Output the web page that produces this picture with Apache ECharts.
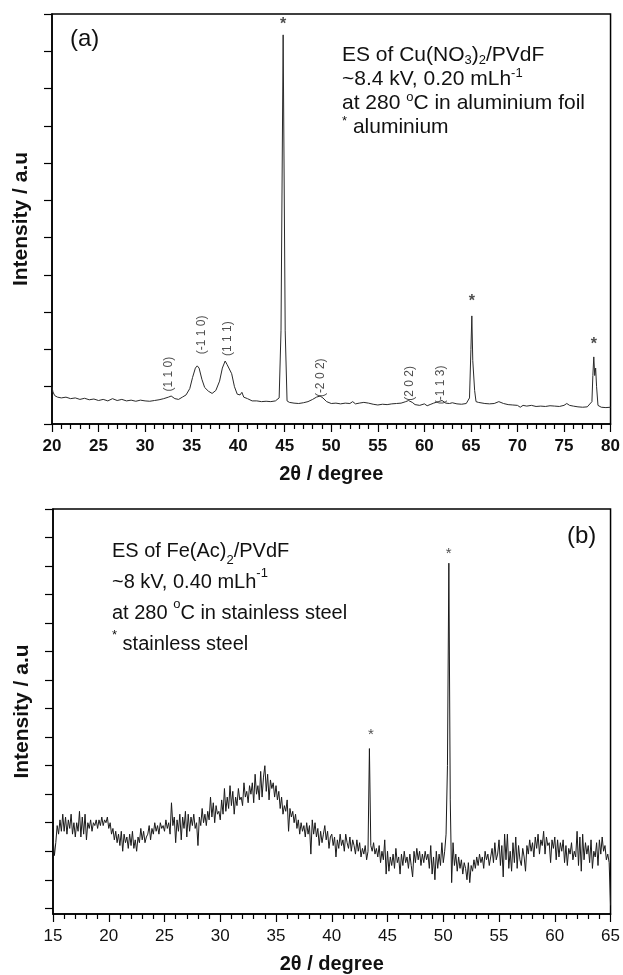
<!DOCTYPE html>
<html>
<head>
<meta charset="utf-8">
<script src="https://cdn.jsdelivr.net/npm/echarts@6/dist/echarts.min.js"></script>
<style>
html, body { margin: 0; padding: 0; background: #fff; }
#chart { width: 623px; height: 975px; }
</style>
</head>
<body>
<div id="chart"></div>
<script>
// ---- panel (a): Cu(NO3)2/PVdF on aluminium foil ----
var traceA = [
    [20, 1.0], [20.1, 0.86], [20.3, 0.76], [20.6, 0.72], [21, 0.70], [21.5, 0.72], [22, 0.68], [22.5, 0.70],
    [23, 0.66], [23.5, 0.69], [24, 0.65], [24.5, 0.67], [25, 0.63], [25.5, 0.66], [26, 0.62], [26.5, 0.68],
    [27, 0.63], [27.5, 0.66], [28, 0.62], [28.5, 0.64], [29, 0.61], [29.5, 0.64], [30, 0.62], [30.5, 0.61],
    [31, 0.63], [31.5, 0.65], [32, 0.68], [32.5, 0.72], [32.8, 0.75], [33.2, 0.68], [33.6, 0.66], [34, 0.72],
    [34.4, 0.78], [34.8, 0.95], [35.1, 1.25], [35.4, 1.5], [35.6, 1.56], [35.8, 1.5], [36.1, 1.2], [36.4, 0.98],
    [36.8, 0.88], [37.2, 0.82], [37.6, 0.9], [38.0, 1.15], [38.3, 1.5], [38.6, 1.69], [38.8, 1.6], [39.0, 1.62],
    [39.3, 1.35], [39.6, 1.0], [39.9, 0.8], [40.2, 0.78], [40.4, 0.85], [40.6, 0.72], [41, 0.68], [41.5, 0.62],
    [42, 0.62], [42.5, 0.6], [43, 0.61], [43.5, 0.6], [44, 0.62], [44.4, 0.7], [44.6, 2.5], [44.83, 10.44],
    [45.05, 2.5], [45.25, 0.62], [45.5, 0.58], [46, 0.56], [46.5, 0.55], [47, 0.57], [47.5, 0.6], [48, 0.66],
    [48.4, 0.72], [48.8, 0.75], [49.1, 0.7], [49.5, 0.6], [50, 0.55], [50.5, 0.56], [51, 0.54], [51.5, 0.56],
    [52, 0.55], [52.3, 0.6], [52.6, 0.54], [53, 0.56], [53.5, 0.58], [54, 0.56], [54.5, 0.53], [55, 0.51],
    [55.5, 0.53], [56, 0.52], [56.5, 0.54], [57, 0.55], [57.5, 0.56], [58, 0.6], [58.3, 0.63], [58.7, 0.58],
    [59, 0.52], [59.5, 0.5], [60, 0.54], [60.3, 0.49], [60.7, 0.53], [61, 0.56], [61.5, 0.6], [61.9, 0.63],
    [62.3, 0.56], [62.7, 0.55], [63, 0.57], [63.5, 0.54], [64, 0.53], [64.5, 0.55], [64.85, 0.7], [65.0, 2.0],
    [65.1, 2.9], [65.2, 1.7], [65.3, 1.65], [65.4, 0.9], [65.55, 0.6], [65.8, 0.58], [66, 0.6], [66.5, 0.55],
    [67, 0.54], [67.5, 0.55], [68, 0.6], [68.5, 0.55], [69, 0.52], [69.5, 0.51], [70, 0.5], [70.3, 0.45],
    [70.6, 0.5], [71, 0.48], [71.5, 0.5], [72, 0.47], [72.5, 0.48], [73, 0.47], [73.5, 0.49], [74, 0.48],
    [74.5, 0.47], [75, 0.5], [75.3, 0.55], [75.6, 0.5], [76, 0.48], [76.5, 0.46], [77, 0.45], [77.5, 0.46],
    [78.0, 0.6], [78.1, 1.3], [78.2, 1.8], [78.3, 1.3], [78.4, 1.5], [78.5, 1.0], [78.65, 0.5], [79, 0.45],
    [79.5, 0.44], [80, 0.45]
];
var starsA = [[44.83, 10.82], [65.1, 3.39], [78.2, 2.25]];
var hklTextA = ['(1 1 0)', '(-1 1 0)', '(1 1 1)', '(-2 0 2)', '(2 0 2)', '(-1 1 3)'];
var hklPosA = [[32.56, 1.34], [36.07, 2.39], [38.9, 2.29], [48.84, 1.24], [58.4, 1.09], [61.8, 1.05]];

// ---- panel (b): Fe(Ac)2/PVdF on stainless steel, step scan 15..65 ----
var scanStartB = 15;
var scanStepB = 0.125;
var traceB = [
    2.5, 1.85, 2.3, 2.9, 2.6, 3.1, 2.7, 3.3,
    2.7, 3.2, 2.6, 3.1, 2.8, 3.3, 2.6, 3.0,
    2.5, 3.0, 2.7, 3.4, 2.5, 3.2, 2.6, 3.3,
    2.4, 3.0, 2.8, 3.1, 2.7, 3.0, 2.9, 3.1,
    2.8, 3.1, 2.9, 3.2, 2.9, 3.1, 3.0, 3.2,
    2.8, 3.0, 2.6, 2.8, 2.4, 2.7, 2.3, 2.6,   // 20
    2.2, 2.7, 2.0, 2.6, 2.3, 2.5, 2.1, 2.6,
    2.2, 2.7, 2.1, 2.4, 2.0, 2.5, 2.3, 2.8,
    2.4, 2.7, 2.3, 2.5, 2.6, 2.9, 2.4, 2.8,
    2.6, 3.0, 2.7, 2.9, 2.6, 3.0, 2.8, 2.9,
    2.7, 3.1, 2.8, 3.0, 2.6, 3.7, 2.9, 3.2,   // 25
    2.3, 3.1, 2.7, 3.3, 2.4, 3.2, 2.8, 3.4,
    2.5, 3.3, 2.7, 3.2, 2.9, 3.3, 2.8, 3.0,
    2.2, 3.2, 2.9, 3.5, 3.0, 3.3, 2.9, 3.4,
    3.1, 3.9, 3.2, 3.7, 3.0, 3.6, 3.3, 3.4,
    3.1, 3.8, 3.3, 4.2, 3.4, 3.9, 3.5, 4.3,   // 30
    3.6, 4.1, 3.3, 3.9, 3.6, 4.2, 3.8, 3.9,
    3.6, 4.4, 3.9, 4.1, 3.7, 4.3, 4.0, 4.4,
    3.7, 4.7, 4.0, 4.3, 3.8, 4.8, 3.9, 4.6,
    5.0, 4.1, 4.7, 3.8, 4.5, 4.2, 4.4, 3.9,
    4.3, 3.8, 4.1, 3.5, 3.9, 3.3, 3.6, 3.4,   // 35
    3.8, 2.7, 3.5, 3.2, 3.4, 3.0, 3.3, 2.8,
    3.1, 2.6, 3.0, 2.7, 2.9, 2.5, 3.0, 2.6,
    2.9, 1.9, 3.1, 2.6, 3.0, 2.5, 2.8, 2.2,
    2.7, 2.3, 2.6, 2.9, 2.4, 2.7, 2.1, 2.5,
    2.6, 2.2, 2.5, 1.8, 2.4, 2.1, 2.6, 2.2,   // 40
    2.4, 2.0, 2.6, 2.3, 2.1, 2.5, 2.0, 2.4,
    2.2, 1.9, 2.4, 2.0, 2.3, 1.8, 2.1, 1.9,
    2.2, 1.7, 2.0, 5.6, 2.2, 2.0, 2.3, 1.9,
    2.1, 1.8, 2.2, 1.6, 2.0, 1.7, 2.4, 1.2,
    2.0, 1.3, 1.8, 1.5, 1.9, 1.4, 2.1, 1.6,   // 45
    1.8, 1.2, 1.9, 1.5, 2.0, 1.6, 1.8, 1.4,
    1.9, 1.5, 1.1, 2.0, 1.6, 2.1, 1.7, 2.0,
    1.5, 1.9, 1.6, 2.0, 1.7, 1.9, 1.4, 2.2,
    1.2, 1.8, 1.0, 2.0, 1.4, 1.9, 1.5, 2.3,
    1.6, 2.0, 2.6, 5.0, 12.1, 3.8, 0.9, 2.3,  // 50
    1.5, 1.9, 1.3, 1.8, 1.4, 1.7, 1.2, 1.6,
    1.4, 1.0, 1.6, 0.9, 1.5, 1.3, 1.7, 1.4,
    1.8, 1.5, 1.9, 1.6, 1.8, 1.4, 2.0, 1.7,
    1.9, 1.5, 1.8, 2.1, 1.6, 2.3, 1.7, 1.9,
    2.4, 1.5, 2.2, 1.1, 2.6, 1.7, 2.6, 1.4,   // 55
    2.0, 1.3, 2.3, 1.6, 2.5, 1.4, 2.2, 1.7,
    1.5, 2.1, 1.8, 1.3, 2.2, 1.9, 2.4, 2.0,
    2.3, 1.8, 2.5, 2.1, 2.6, 1.9, 2.4, 2.2,
    2.7, 1.9, 2.5, 2.2, 2.3, 1.6, 2.4, 2.1,
    2.5, 1.7, 2.4, 1.8, 2.3, 2.0, 2.4, 1.6,   // 60
    2.2, 1.5, 2.1, 1.9, 2.3, 1.7, 2.0, 1.8,
    2.7, 1.5, 2.5, 1.3, 2.6, 1.7, 2.3, 1.9,
    2.2, 1.6, 2.4, 1.4, 2.0, 1.8, 2.3, 1.5,
    2.4, 1.9, 2.5, 2.0, 2.2, 1.7, 1.9, 1.6,
    0.1                                       // 65
];
var starsB = [[43.5, 6.21], [50.48, 12.57]];
var yTicksB = [0, 1, 2, 3, 4, 5, 6, 7, 8, 9, 10, 11, 12, 13, 14];

var font = 'Liberation Sans, Arial, Helvetica, sans-serif';
var ink = '#111';

var pairsB = traceB.map(function (v, i) {
    return [scanStartB + i * scanStepB, v];
});
var hklA = hklTextA.map(function (t, i) {
    return { name: t, value: hklPosA[i] };
});
function starItems(list) {
    return list.map(function (p) { return { name: '*', value: p }; });
}

var richNote = {
    sub: { fontSize: 13, fontFamily: font, color: ink, verticalAlign: 'bottom', lineHeight: 13 },
    sup: { fontSize: 13, fontFamily: font, color: ink, verticalAlign: 'top', lineHeight: 13 }
};

function xAxisOf(grid, min, max, bold) {
    return {
        type: 'value', gridIndex: grid, min: min, max: max, interval: 5,
        name: '2θ / degree', nameLocation: 'middle', nameGap: 40,
        nameTextStyle: { fontFamily: font, fontSize: 20, fontWeight: 'bold', color: ink },
        axisLine: { onZero: false, lineStyle: { color: '#000', width: 1.5 } },
        axisTick: { length: 8, lineStyle: { color: '#000', width: 1.2 } },
        minorTick: { show: true, splitNumber: 5, length: 5, lineStyle: { color: '#000', width: 1.2 } },
        axisLabel: { margin: 14, fontFamily: font, fontSize: 17, fontWeight: bold ? 'bold' : 'normal', color: ink },
        splitLine: { show: false }
    };
}

function yAxisOf(grid, min, max, ticks) {
    var ax = {
        type: 'value', gridIndex: grid, min: min, max: max, interval: 1,
        name: 'Intensity / a.u', nameLocation: 'middle', nameGap: 20,
        nameTextStyle: { fontFamily: font, fontSize: 21, fontWeight: 'bold', color: ink },
        axisLine: { show: true, onZero: false, lineStyle: { color: '#000', width: 1.5 } },
        axisTick: { show: true, length: 8, lineStyle: { color: '#000', width: 1.2 } },
        axisLabel: { show: false },
        splitLine: { show: false }
    };
    if (ticks) ax.axisTick.customValues = ticks;
    return ax;
}

var chart = echarts.init(document.getElementById('chart'));

chart.setOption({
    animation: false,
    backgroundColor: '#fff',
    title: [
        { text: '(a)', left: 70, top: 27, padding: 0,
          textStyle: { fontFamily: font, fontSize: 24, fontWeight: 'normal', color: ink } },
        { text: 'ES of Cu(NO{sub|3}){sub|2}/PVdF\n~8.4 kV, 0.20 mLh{sup|-1}\nat 280 {sup|o}C in aluminium foil\n{sup|*} aluminium',
          left: 342, top: 43, padding: 0,
          textStyle: { fontFamily: font, fontSize: 21, fontWeight: 'normal', color: ink, lineHeight: 24, rich: richNote } },
        { text: '(b)', left: 567, top: 524, padding: 0,
          textStyle: { fontFamily: font, fontSize: 24, fontWeight: 'normal', color: ink } },
        { text: 'ES of Fe(Ac){sub|2}/PVdF\n~8 kV, 0.40 mLh{sup|-1}\nat 280 {sup|o}C in stainless steel\n{sup|*} stainless steel',
          left: 112, top: 536, padding: 0,
          textStyle: { fontFamily: font, fontSize: 20, fontWeight: 'normal', color: ink, lineHeight: 31, rich: richNote } }
    ],
    grid: [
        { left: 52, top: 14, width: 560, height: 410, show: true, borderColor: '#000', borderWidth: 1.5 },
        { left: 53, top: 509, width: 559, height: 410, show: true, borderColor: '#000', borderWidth: 1.5 }
    ],
    xAxis: [xAxisOf(0, 20, 80, true), xAxisOf(1, 15, 65, false)],
    yAxis: [yAxisOf(0, 0, 11, null), yAxisOf(1, -0.2, 14, yTicksB)],
    series: [
        {
            type: 'line', xAxisIndex: 0, yAxisIndex: 0, data: traceA,
            showSymbol: false, lineStyle: { color: '#2a2a2a', width: 1 }
        },
        {
            type: 'scatter', xAxisIndex: 0, yAxisIndex: 0, data: hklA, symbolSize: 0, silent: true,
            label: { show: true, position: 'inside', rotate: 90, formatter: '{b}',
                     fontFamily: font, fontSize: 12, color: '#222' }
        },
        {
            type: 'scatter', xAxisIndex: 0, yAxisIndex: 0, data: starItems(starsA), symbolSize: 0, silent: true,
            label: { show: true, position: 'inside', formatter: '{b}', offset: [0, 4],
                     fontFamily: font, fontSize: 16, fontWeight: 'bold', color: '#222' }
        },
        {
            type: 'line', xAxisIndex: 1, yAxisIndex: 1, data: pairsB,
            showSymbol: false, lineStyle: { color: '#1a1a1a', width: 1 }
        },
        {
            type: 'scatter', xAxisIndex: 1, yAxisIndex: 1, data: starItems(starsB), symbolSize: 0, silent: true,
            label: { show: true, position: 'inside', formatter: '{b}', offset: [0, 4],
                     fontFamily: font, fontSize: 15, color: '#222' }
        }
    ]
});
</script>
</body>
</html>
